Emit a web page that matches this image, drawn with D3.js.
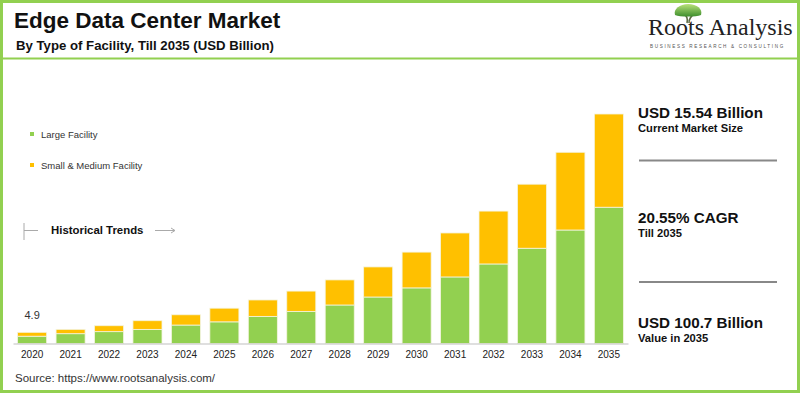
<!DOCTYPE html>
<html>
<head>
<meta charset="utf-8">
<script src="https://cdn.jsdelivr.net/npm/d3@7"></script>
<style>
  html, body { margin: 0; padding: 0; background: #fff; }
  svg { display: block; font-family: "Liberation Sans", Arial, sans-serif; }
</style>
</head>
<body>
<div id="chart"></div>
<script>
// data (USD Billion)
const years = ["2020","2021","2022","2023","2024","2025","2026","2027","2028","2029","2030","2031","2032","2033","2034","2035"];
const largeFacility = [3.2, 4.3, 5.2, 6.2, 8.1, 9.5, 11.9, 14.1, 16.9, 20.4, 24.4, 29.2, 34.9, 41.8, 49.8, 59.8];
const smallMediumFacility = [1.7, 1.9, 2.6, 3.8, 4.5, 6.0, 7.2, 8.9, 11.0, 13.2, 15.7, 19.3, 23.2, 28.1, 34.1, 40.9];
const seriesNames = ["Large Facility", "Small & Medium Facility"];
const seriesColors = ["#92d050", "#ffc000"];
const firstLabel = "4.9";

function init() {
    const w = 800, h = 393;
    const green = "#92d050";

    const svg = d3.select("#chart").append("svg")
        .attr("width", w)
        .attr("height", h);

    svg.append("rect").attr("width", w).attr("height", h).attr("fill", "#fff");

    // table for stacking
    const rows = years.map((y, i) => ({ year: y, large: largeFacility[i], small: smallMediumFacility[i] }));
    const stacked = d3.stack().keys(["large", "small"])(rows);

    const x = d3.scaleBand()
        .domain(years)
        .range([13, 628])
        .paddingInner(0.245)
        .paddingOuter(0.12);

    const y = d3.scaleLinear()
        .domain([0, 105])
        .range([343.5, 104.2]);

    // bars
    svg.append("g").selectAll("g")
        .data(stacked)
        .join("g")
        .attr("fill", (d, i) => seriesColors[i])
        .selectAll("rect")
        .data(d => d)
        .join("rect")
        .attr("x", d => x(d.data.year))
        .attr("y", d => y(d[1]))
        .attr("width", x.bandwidth())
        .attr("height", d => y(d[0]) - y(d[1]))
        .attr("stroke", "#f4f4e0")
        .attr("stroke-width", 0.8);

    // x axis
    const xAxis = svg.append("g")
        .attr("transform", `translate(0,${y(0)})`)
        .call(d3.axisBottom(x).tickSize(0).tickPadding(7));
    xAxis.select(".domain").attr("stroke", "#bfbfbf").attr("stroke-width", 1);
    xAxis.selectAll("text")
        .attr("font-family", "Liberation Sans, Arial, sans-serif")
        .attr("font-size", "10px")
        .attr("fill", "#222");

    // first value label
    svg.append("text")
        .attr("x", x(years[0]) + x.bandwidth() / 2)
        .attr("y", y(largeFacility[0] + smallMediumFacility[0]) - 13)
        .attr("text-anchor", "middle")
        .attr("font-size", "11px")
        .attr("fill", "#333")
        .text(firstLabel);

    // titles
    svg.append("text")
        .attr("x", 14).attr("y", 28)
        .attr("font-size", "22.5px").attr("font-weight", "bold").attr("fill", "#111")
        .text("Edge Data Center Market");
    svg.append("text")
        .attr("x", 16).attr("y", 50)
        .attr("font-size", "13.2px").attr("font-weight", "bold").attr("fill", "#111")
        .text("By Type of Facility, Till 2035 (USD Billion)");

    // legend
    const legend = svg.append("g");
    seriesNames.forEach((name, i) => {
        const ly = 134 + i * 31;
        legend.append("rect")
            .attr("x", 30).attr("y", ly - 2)
            .attr("width", 4).attr("height", 4)
            .attr("fill", seriesColors[i]);
        legend.append("text")
            .attr("x", 41).attr("y", ly + 3.5)
            .attr("font-size", "9.5px").attr("fill", "#333")
            .text(name);
    });

    // historical trends marker
    const ht = svg.append("g").attr("stroke", "#aaa").attr("fill", "none");
    ht.append("line").attr("x1", 24).attr("x2", 24).attr("y1", 223).attr("y2", 240);
    ht.append("line").attr("x1", 24).attr("x2", 38).attr("y1", 230.5).attr("y2", 230.5);
    ht.append("line").attr("x1", 155).attr("x2", 175).attr("y1", 230.5).attr("y2", 230.5);
    ht.append("path").attr("d", "M171,228 L175,230.5 L171,233");
    svg.append("text")
        .attr("x", 51).attr("y", 234)
        .attr("font-size", "11.4px").attr("font-weight", "bold").attr("fill", "#111")
        .text("Historical Trends");

    // right panel
    const panel = [
        { big: "USD 15.54 Billion", small: "Current Market Size", y: 118 },
        { big: "20.55% CAGR", small: "Till 2035", y: 223 },
        { big: "USD 100.7 Billion", small: "Value in 2035", y: 328 }
    ];
    panel.forEach(p => {
        svg.append("text")
            .attr("x", 638).attr("y", p.y)
            .attr("font-size", "15.2px").attr("font-weight", "bold").attr("fill", "#111")
            .text(p.big);
        svg.append("text")
            .attr("x", 638).attr("y", p.y + 14)
            .attr("font-size", "11.2px").attr("font-weight", "bold").attr("fill", "#111")
            .text(p.small);
    });
    [160.5, 282].forEach(ly => {
        svg.append("line")
            .attr("x1", 639).attr("x2", 777)
            .attr("y1", ly).attr("y2", ly)
            .attr("stroke", "#888").attr("stroke-width", 2);
    });

    // source
    svg.append("text")
        .attr("x", 15).attr("y", 382)
        .attr("font-size", "11.5px").attr("fill", "#333")
        .text("Source: https://www.rootsanalysis.com/");

    // logo
    const logo = svg.append("g");
    const grad = svg.append("defs").append("linearGradient")
        .attr("id", "tree").attr("x1", 0).attr("y1", 0).attr("x2", 0).attr("y2", 1);
    grad.append("stop").attr("offset", "0%").attr("stop-color", "#b9e27a");
    grad.append("stop").attr("offset", "100%").attr("stop-color", "#3f8f2e");
    logo.append("path")
        .attr("d", "M687,23 C688,19 687,16 684,14 M689,23 C689,19 691,16 694,14")
        .attr("stroke", "#5d6b45").attr("stroke-width", 1.6).attr("fill", "none");
    logo.append("path")
        .attr("d", "M675,15 C673,9 680,4 688,4 C697,4 703,9 701,15 C696,17 680,17 675,15 Z")
        .attr("fill", "url(#tree)");
    logo.append("text")
        .attr("x", 648).attr("y", 35)
        .attr("font-family", "Liberation Serif, Times New Roman, serif")
        .attr("font-size", "24px").attr("fill", "#222")
        .text("Roots Analysis");
    logo.append("text")
        .attr("x", 650).attr("y", 48)
        .attr("font-size", "4.6px").attr("letter-spacing", "1.65px").attr("fill", "#555")
        .text("BUSINESS RESEARCH & CONSULTING");

    // green frame and header rule
    svg.append("line")
        .attr("x1", 0).attr("x2", w).attr("y1", 58.5).attr("y2", 58.5)
        .attr("stroke", green).attr("stroke-width", 2);
    svg.append("rect")
        .attr("x", 1.5).attr("y", 1.5)
        .attr("width", w - 3).attr("height", h - 3)
        .attr("fill", "none").attr("stroke", green).attr("stroke-width", 3);
}

window.onload = init;
</script>
</body>
</html>
